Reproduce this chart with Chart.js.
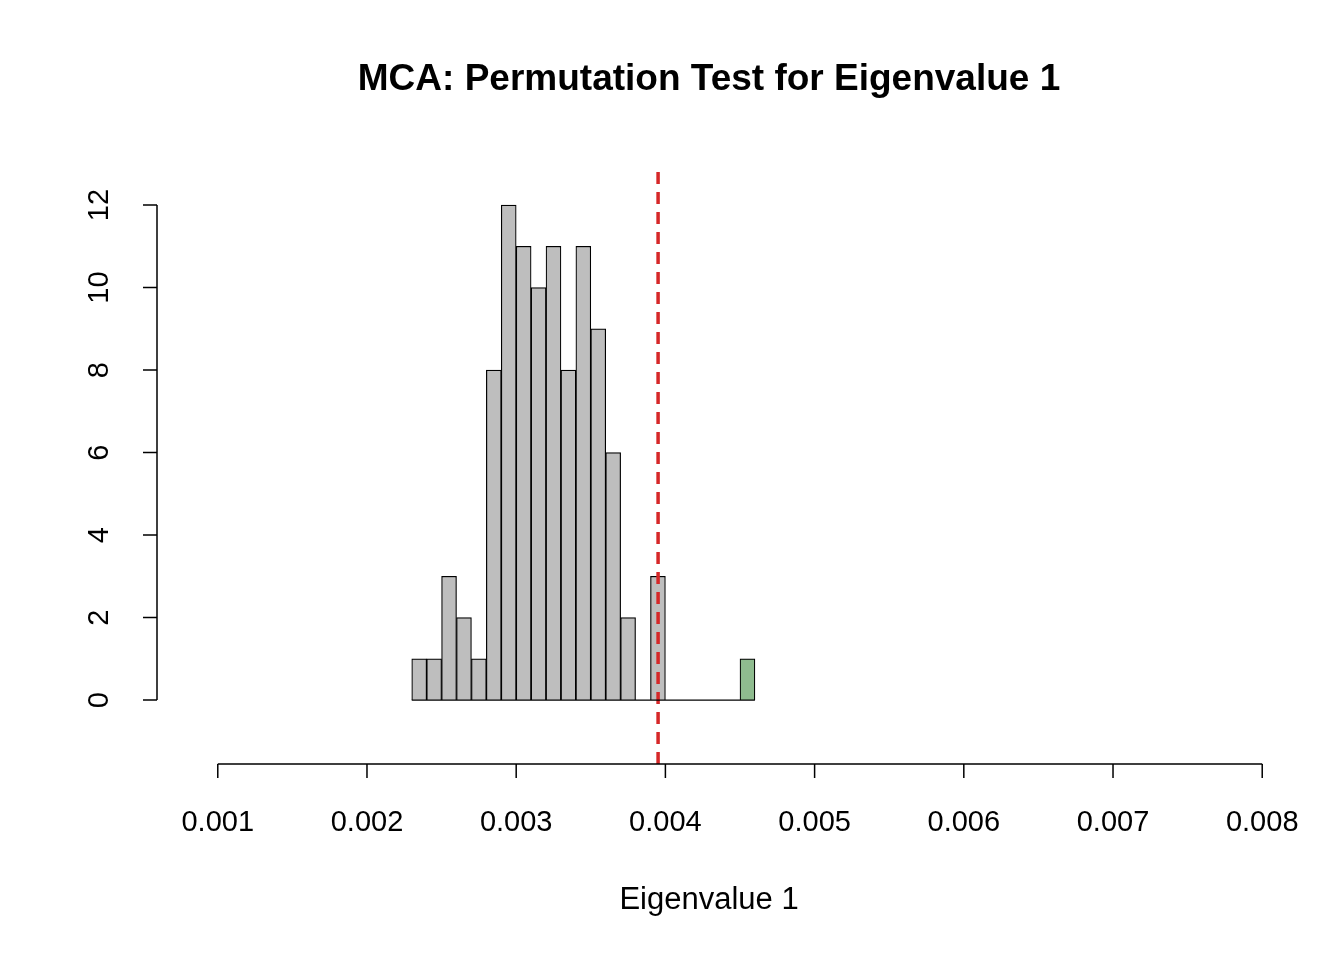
<!DOCTYPE html>
<html>
<head>
<meta charset="utf-8">
<script src="https://cdn.jsdelivr.net/npm/chart.js@4/dist/chart.umd.min.js"></script>
<style>body{margin:0;background:#fff}canvas{display:block}</style>
</head>
<body>
<canvas id="c" width="1344" height="960"></canvas>
<script>
// histogram bins (left edges) and counts
const binStarts = [0.0023,0.0024,0.0025,0.0026,0.0027,0.0028,0.0029,0.0030,0.0031,0.0032,0.0033,0.0034,
  0.0035,0.0036,0.0037,0.0038,0.0039,0.0040,0.0041,0.0042,0.0043,0.0044,0.0045];
const counts = [1,1,3,2,1,8,12,11,10,11,8,11,9,6,2,0,3,0,0,0,0,0,1];
const binWidth = 0.0001;
const observed = 0.003951;
const xTicks = [0.001,0.002,0.003,0.004,0.005,0.006,0.007,0.008];
const yTicks = [0,2,4,6,8,10,12];

const barColors = binStarts.map(b => b >= observed ? "#8fbc8f" : "#bebebe");
const FONT = "'Liberation Sans', Arial, sans-serif";

// draws R-style detached axes, title and labels
const rAxes = {
  id: "rAxes",
  afterDraw(chart) {
    const ctx = chart.ctx, x = chart.scales.x, y = chart.scales.y;
    ctx.save();
    ctx.strokeStyle = "#000";
    ctx.lineWidth = 1.5;
    ctx.fillStyle = "#000";
    // x axis
    const ax = 764;
    ctx.beginPath();
    ctx.moveTo(x.getPixelForValue(xTicks[0]), ax);
    ctx.lineTo(x.getPixelForValue(xTicks[xTicks.length - 1]), ax);
    xTicks.forEach(t => {
      const px = x.getPixelForValue(t);
      ctx.moveTo(px, ax); ctx.lineTo(px, ax + 14);
    });
    ctx.stroke();
    ctx.font = "29px " + FONT;
    ctx.textAlign = "center";
    ctx.textBaseline = "middle";
    xTicks.forEach(t => ctx.fillText(t.toFixed(3), x.getPixelForValue(t), 823));
    // y axis
    const ay = 157;
    ctx.beginPath();
    ctx.moveTo(ay, y.getPixelForValue(yTicks[0]));
    ctx.lineTo(ay, y.getPixelForValue(yTicks[yTicks.length - 1]));
    yTicks.forEach(t => {
      const py = y.getPixelForValue(t);
      ctx.moveTo(ay, py); ctx.lineTo(ay - 14, py);
    });
    ctx.stroke();
    yTicks.forEach(t => {
      ctx.save();
      ctx.translate(100, y.getPixelForValue(t));
      ctx.rotate(-Math.PI / 2);
      ctx.fillText(String(t), 0, 0);
      ctx.restore();
    });
    // baseline under empty bins
    ctx.lineWidth = 1.2;
    ctx.beginPath();
    ctx.moveTo(x.getPixelForValue(binStarts[0]), y.getPixelForValue(0));
    ctx.lineTo(x.getPixelForValue(binStarts[binStarts.length - 1] + binWidth), y.getPixelForValue(0));
    ctx.stroke();
    // titles
    ctx.font = "bold 37px " + FONT;
    ctx.fillText("MCA: Permutation Test for Eigenvalue 1", 709, 80);
    ctx.font = "31px " + FONT;
    ctx.fillText("Eigenvalue 1", 709, 900);
    ctx.restore();
  }
};

new Chart(document.getElementById("c"), {
  type: "bar",
  data: {
    datasets: [
      {
        type: "line",
        data: [{ x: observed, y: -1.55 }, { x: observed, y: 12.85 }],
        borderColor: "#d62728",
        borderWidth: 3.5,
        borderDash: [12, 8],
        pointRadius: 0,
        order: 0
      },
      {
        data: binStarts.map((b, i) => ({ x: b + binWidth / 2, y: counts[i] })),
        backgroundColor: barColors,
        borderColor: "#000",
        borderWidth: 1.2,
        barPercentage: 1,
        categoryPercentage: 1,
        order: 1
      }
    ]
  },
  options: {
    responsive: false,
    animation: false,
    layout: { padding: { left: 176, right: 40, top: 170, bottom: 196 } },
    plugins: { legend: { display: false }, tooltip: { enabled: false } },
    scales: {
      x: { type: "linear", min: 0.00072, max: 0.00828, display: false, offset: false },
      y: { min: -1.55, max: 12.85, display: false }
    }
  },
  plugins: [rAxes]
});
</script>
</body>
</html>
